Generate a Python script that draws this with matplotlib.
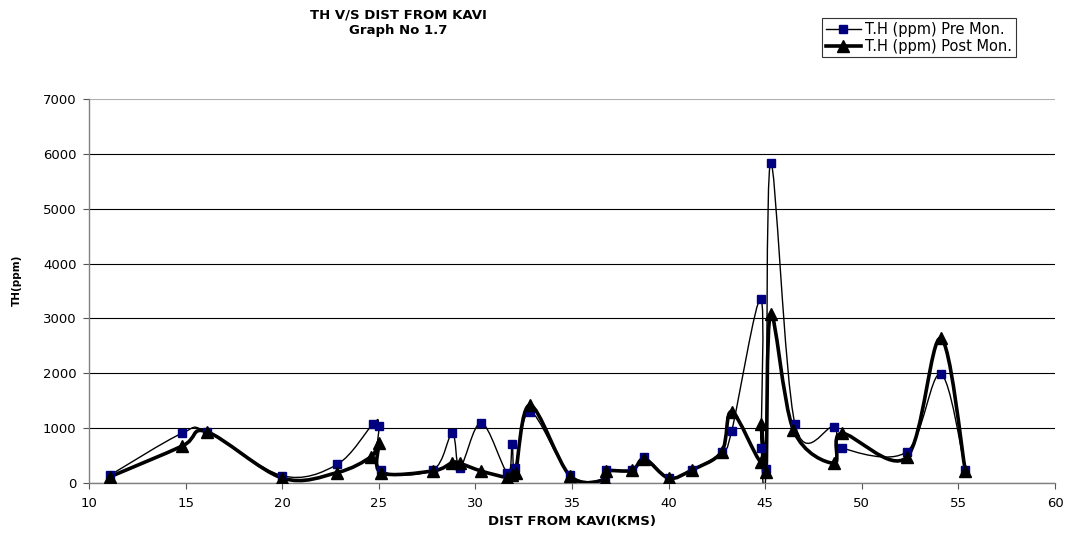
# TH vs distance from Kavi - Graph No 1.7
import numpy as np
import matplotlib.pyplot as plt
from matplotlib.path import Path
from matplotlib.patches import PathPatch
from matplotlib.lines import Line2D

plt.rcParams['font.family'] = ['DejaVu Sans']

# distance (km) and total hardness (ppm)
pre_x = [11.1, 14.8, 16.1, 20.0, 22.85, 24.7, 25.0, 25.1, 27.8, 28.8, 29.2, 30.3,
         31.65, 31.9, 32.05, 32.83, 34.9, 36.7, 36.75, 38.1, 38.75, 40.0, 41.2,
         42.75, 43.27, 44.77, 44.8, 45.04, 45.28, 46.54, 48.56, 48.96, 52.32,
         54.08, 55.36]
pre_y = [146, 905, 935, 133, 340, 1075, 1045, 237, 237, 905, 280, 1100,
         188, 705, 267, 1300, 146, 70, 240, 237, 468, 97, 237,
         560, 955, 3360, 645, 250, 5840, 1075, 1027, 645, 570,
         1987, 237]

post_x = [11.1, 14.83, 16.1, 20.0, 22.85, 24.6, 25.0, 25.1, 27.8, 28.8, 29.2, 30.3,
          31.65, 31.9, 32.08, 32.83, 34.9, 36.7, 36.75, 38.1, 38.75, 40.0, 41.2,
          42.75, 43.27, 44.77, 44.8, 45.04, 45.28, 46.46, 48.56, 48.96, 52.32,
          54.08, 55.36]
post_y = [115, 675, 935, 90, 190, 480, 730, 190, 220, 370, 358, 218,
          100, 150, 190, 1420, 130, 60, 220, 230, 440, 90, 237,
          570, 1300, 390, 1075, 200, 3080, 966, 358, 905, 468,
          2637, 220]

x_ticks = [10, 15, 20, 25, 30, 35, 40, 45, 50, 55, 60]
y_ticks = [0, 1000, 2000, 3000, 4000, 5000, 6000, 7000]


def smooth_path(xs, ys):
    """Excel style smoothed line: cubic bezier through the points"""
    pts = np.column_stack([xs, ys]).astype(float)
    n = len(pts)
    verts = [pts[0]]
    codes = [Path.MOVETO]
    for i in range(n - 1):
        p0 = pts[i - 1] if i > 0 else pts[i]
        p1 = pts[i]
        p2 = pts[i + 1]
        p3 = pts[i + 2] if i + 2 < n else pts[i + 1]
        verts += [p1 + (p2 - p0) / 6.0, p2 - (p3 - p1) / 6.0, p2]
        codes += [Path.CURVE4] * 3
    return Path(verts, codes)


fig = plt.figure(figsize=(10.75, 5.38), dpi=100)
ax = fig.add_axes([89 / 1075, 1 - 483 / 538, (1055 - 89) / 1075, (483 - 99) / 538])
ax.set_xlim(10, 60)
ax.set_ylim(0, 7000)

ax.add_patch(PathPatch(smooth_path(pre_x, pre_y), fill=False, color='black', lw=1.0, zorder=3))
ax.add_patch(PathPatch(smooth_path(post_x, post_y), fill=False, color='black', lw=2.6, zorder=4))

ax.plot(pre_x, pre_y, ls='none', marker='s', ms=6, color='#000080', zorder=5)
ax.plot(post_x, post_y, ls='none', marker='^', ms=8, color='black', zorder=6)

ax.set_xticks(x_ticks)
ax.set_yticks(y_ticks)
ax.tick_params(labelsize=9.5, length=4, width=0.8, color='#555555', direction='out')
ax.tick_params(axis='y', pad=5)
ax.tick_params(axis='x', pad=6)
ax.grid(axis='y', color='black', lw=0.8)
ax.set_axisbelow(True)
for s in ['top', 'right']:
    ax.spines[s].set_visible(False)
for s in ['left', 'bottom']:
    ax.spines[s].set_color('#808080')
    ax.spines[s].set_linewidth(1.0)
ax.yaxis.get_gridlines()[-1].set_color('#b0b0b0')

ax.set_xlabel('DIST FROM KAVI(KMS)', fontsize=9.5, fontweight='bold', labelpad=4)
fig.text(17 / 1075, 1 - 280 / 538, 'TH(ppm)', rotation=90, fontsize=7.5,
         fontweight='bold', ha='center', va='center')

fig.text(398 / 1075, 1 - 23 / 538, 'TH V/S DIST FROM KAVI\nGraph No 1.7', ha='center',
         va='center', fontsize=9.5, fontweight='bold', linespacing=1.25)

handles = [Line2D([], [], color='black', lw=1.0, marker='s', ms=6,
                  mfc='#000080', mec='#000080'),
           Line2D([], [], color='black', lw=2.6, marker='^', ms=8)]
leg = fig.legend(handles, ['T.H (ppm) Pre Mon.', 'T.H (ppm) Post Mon.'],
                 loc='upper left', bbox_to_anchor=(822 / 1075, 1 - 18 / 538),
                 fontsize=10.5, frameon=True, fancybox=False, handlelength=2.4,
                 borderpad=0.25, labelspacing=0.15, handletextpad=0.3,
                 borderaxespad=0)
leg.get_frame().set_edgecolor('black')
leg.get_frame().set_linewidth(0.8)

fig.savefig('out.png', dpi=100)
